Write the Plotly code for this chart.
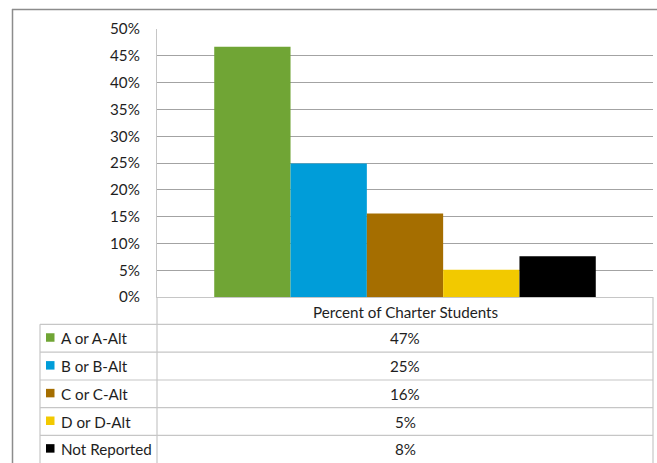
import plotly.graph_objects as go

# ---- data ----
category = "Percent of Charter Students"
series_names = ["A or A-Alt", "B or B-Alt", "C or C-Alt", "D or D-Alt", "Not Reported"]
series_values = [0.467, 0.249, 0.156, 0.051, 0.076]
table_labels = ["47%", "25%", "16%", "5%", "8%"]
colors = ["#70A535", "#009DD9", "#A56E00", "#F2C900", "#000000"]

W, H = 657, 463
FONT = "Lato"
FS = 15.2
TXT = "#1E1E1E"
def px(x): return min(max(x / W, 0), 1)
def py(y): return min(max(1 - y / H, 0), 1)

PL, PR, PT, PB = 157, 653, 29, 297
KEYL = 40
row_edges = [297, 324.3, 352.2, 380, 407.7, 435.3, 463]

fig = go.Figure()
for name, val, col in zip(series_names, series_values, colors):
    fig.add_trace(go.Bar(x=[category], y=[val], name=name, marker=dict(color=col, line=dict(width=0)),
                         showlegend=False, hoverinfo="skip"))

shapes = []
annotations = []
grid_col = "#A3A3A3"
tbl_col = "#C6C6C6"

shapes.append(dict(type="line", xref="paper", yref="paper", x0=px(12), x1=px(W), y0=py(9.5), y1=py(9.5),
                   line=dict(color="#8C8C8C", width=1.5)))
shapes.append(dict(type="line", xref="paper", yref="paper", x0=px(12.5), x1=px(12.5), y0=py(9), y1=py(H),
                   line=dict(color="#8C8C8C", width=1.5)))
shapes.append(dict(type="line", xref="paper", yref="paper", x0=px(PL), x1=px(PL), y0=py(PB), y1=py(H),
                   line=dict(color=tbl_col, width=1.2)))
shapes.append(dict(type="line", xref="paper", yref="paper", x0=px(PR), x1=px(PR), y0=py(PB), y1=py(H),
                   line=dict(color=tbl_col, width=1.2)))
shapes.append(dict(type="line", xref="paper", yref="paper", x0=px(KEYL), x1=px(KEYL), y0=py(row_edges[1]), y1=py(H),
                   line=dict(color=tbl_col, width=1.2)))
for ry in row_edges[1:-1]:
    shapes.append(dict(type="line", xref="paper", yref="paper", x0=px(KEYL), x1=px(PR), y0=py(ry), y1=py(ry),
                       line=dict(color=tbl_col, width=1.2)))

annotations.append(dict(text=category, xref="paper", yref="paper", x=px((PL + PR) / 2),
                        y=py((row_edges[0] + row_edges[1]) / 2 + 1), xanchor="center", yanchor="middle",
                        showarrow=False, font=dict(family=FONT, size=FS, color=TXT)))

for i, (name, lab, col) in enumerate(zip(series_names, table_labels, colors)):
    yc = (row_edges[i + 1] + row_edges[i + 2]) / 2
    shapes.append(dict(type="rect", xref="paper", yref="paper", x0=px(46), x1=px(54.5), y0=py(yc - 5), y1=py(yc + 3.5),
                       fillcolor=col, line=dict(width=0)))
    annotations.append(dict(text=name, xref="paper", yref="paper", x=px(59), y=py(yc), xanchor="left",
                            yanchor="middle", showarrow=False, font=dict(family=FONT, size=FS, color=TXT)))
    annotations.append(dict(text=lab, xref="paper", yref="paper", x=px((PL + PR) / 2), y=py(yc), xanchor="center",
                            yanchor="middle", showarrow=False, font=dict(family=FONT, size=FS, color=TXT)))

fig.update_layout(
    width=W, height=H, autosize=False,
    margin=dict(l=0, r=0, t=0, b=0, pad=0, autoexpand=False),
    paper_bgcolor="white", plot_bgcolor="white",
    barmode="group", bargap=1.5 / 6.5, bargroupgap=0,
    xaxis=dict(domain=[px(PL), px(PR)], showticklabels=False, showgrid=False, showline=True,
               linecolor=tbl_col, linewidth=1.2, ticks="", fixedrange=True, automargin=False),
    yaxis=dict(domain=[py(PB), py(PT)], range=[0, 0.5], dtick=0.05, tickformat=".0%",
               showgrid=True, gridcolor=grid_col, gridwidth=1, zeroline=False,
               showline=True, linecolor=tbl_col, linewidth=1.2, ticks="", ticklabelstandoff=13,
               tickfont=dict(family=FONT, size=FS, color=TXT), fixedrange=True, automargin=False),
    shapes=shapes, annotations=annotations,
    font=dict(family=FONT),
)

fig.write_html("out.html", config={"displayModeBar": False},
               post_script="document.body.style.margin='0';")
